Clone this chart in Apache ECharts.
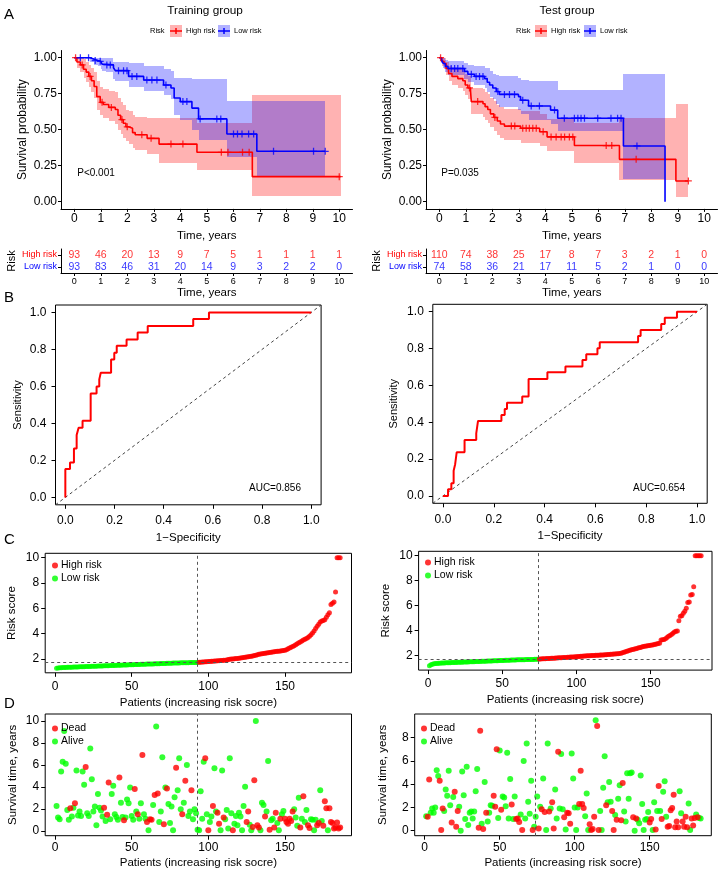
<!DOCTYPE html>
<html><head><meta charset="utf-8">
<script src="https://cdn.jsdelivr.net/npm/echarts@6/dist/echarts.min.js"></script>
<style>html,body{margin:0;padding:0;background:#fff}#c{width:718px;height:876px}</style>
</head><body><div id="c"></div>
<script>
// ---------------- DATA ----------------
const TIME_TICKS = [0,1,2,3,4,5,6,7,8,9,10];

// Panel A – Training group KM (High risk)
const trainHighT  = [0,0.1,0.23,0.35,0.45,0.55,0.65,0.75,0.85,0.98,1.1,1.3,1.55,1.65,1.75,1.85,1.95,2.05,2.2,2.3,2.75,3.2,4.63,6.72,10.05];
const trainHighS  = [1,0.97,0.95,0.92,0.9,0.87,0.84,0.8,0.73,0.69,0.675,0.655,0.64,0.6,0.57,0.545,0.52,0.51,0.48,0.465,0.44,0.4,0.343,0.174,0.174];
const trainHighLo = [1,0.93,0.9,0.86,0.83,0.8,0.76,0.72,0.64,0.6,0.58,0.56,0.54,0.5,0.47,0.44,0.42,0.4,0.37,0.36,0.33,0.27,0.22,0.04,0.04];
const trainHighUp = [1,1,1,0.99,0.97,0.95,0.93,0.9,0.84,0.8,0.78,0.77,0.76,0.72,0.69,0.67,0.64,0.63,0.6,0.59,0.58,0.58,0.55,0.74,0.74];
const trainHighCensT = [0.05,0.3,0.6,1.05,1.4,1.8,2.0,2.55,2.9,3.65,4.1,5.55,5.8,6.35,6.6,10.0];
const trainHighCensS = [1,0.95,0.87,0.69,0.655,0.57,0.52,0.465,0.44,0.4,0.4,0.343,0.343,0.343,0.343,0.174];
// Training group KM (Low risk)
const trainLowT  = [0,0.6,0.75,0.9,1.0,1.05,1.2,1.48,1.55,2.05,2.62,3.37,3.65,3.77,4.0,4.44,4.69,5.76,6.89,9.47];
const trainLowS  = [1,0.99,0.98,0.975,0.965,0.955,0.95,0.93,0.91,0.87,0.845,0.81,0.79,0.72,0.695,0.65,0.575,0.47,0.35,0.35];
const trainLowLo = [1,0.97,0.95,0.94,0.92,0.91,0.9,0.85,0.84,0.8,0.77,0.74,0.71,0.6,0.57,0.5,0.43,0.31,0.17,0.17];
const trainLowUp = [1,1,1,1,1,1,1,0.97,0.97,0.96,0.94,0.92,0.91,0.86,0.86,0.85,0.85,0.7,0.7,0.7];
const trainLowCensT = [0.23,0.54,0.79,0.98,1.23,1.36,1.67,1.86,1.99,2.18,2.36,2.74,2.93,3.12,3.46,4.1,4.25,4.75,5.38,5.53,6.01,6.16,6.33,6.58,6.77,7.52,9.03,9.47];
const trainLowCensS = [1,1,0.98,0.975,0.95,0.95,0.91,0.91,0.91,0.87,0.87,0.845,0.845,0.845,0.81,0.695,0.695,0.575,0.575,0.575,0.47,0.47,0.47,0.47,0.47,0.35,0.35,0.35];

// Test group KM (High risk)
const testHighT  = [0,0.1,0.18,0.26,0.35,0.48,0.7,0.89,0.98,1.08,1.18,1.21,1.65,1.73,1.83,1.93,2.06,2.19,2.31,2.46,3.07,3.79,4.07,5.1,6.8,8.93,9.4];
const testHighS  = [1,0.975,0.96,0.925,0.89,0.87,0.855,0.84,0.81,0.79,0.77,0.695,0.68,0.66,0.64,0.61,0.585,0.56,0.54,0.525,0.51,0.486,0.45,0.39,0.294,0.144,0.144];
const testHighLo = [1,0.945,0.925,0.88,0.84,0.81,0.79,0.77,0.74,0.71,0.69,0.61,0.59,0.57,0.55,0.52,0.49,0.46,0.44,0.43,0.41,0.385,0.35,0.27,0.15,0.035,0.035];
const testHighUp = [1,1,0.995,0.97,0.945,0.93,0.92,0.91,0.885,0.87,0.855,0.79,0.78,0.765,0.745,0.72,0.7,0.675,0.66,0.645,0.63,0.61,0.575,0.55,0.58,0.68,0.68];
const testHighCensT = [0.05,1.14,1.45,2.1,2.72,2.85,3.15,3.28,3.4,3.53,3.66,3.92,4.22,4.41,4.6,4.73,4.91,5.04,6.3,6.51,7.43,9.4];
const testHighCensS = [1,0.79,0.695,0.585,0.525,0.525,0.51,0.51,0.51,0.51,0.51,0.486,0.45,0.45,0.45,0.45,0.45,0.45,0.39,0.39,0.294,0.144];
// Test group KM (Low risk)
const testLowT  = [0,0.08,0.15,0.23,0.33,0.95,1.08,1.33,1.71,1.81,1.9,2.02,2.15,2.27,2.99,3.07,3.37,4.2,4.47,6.95,8.52];
const testLowS  = [1,0.985,0.96,0.94,0.925,0.905,0.885,0.87,0.855,0.83,0.81,0.79,0.765,0.745,0.73,0.705,0.665,0.636,0.58,0.387,0];
const testLowLo = [1,0.96,0.93,0.9,0.88,0.85,0.83,0.81,0.79,0.76,0.73,0.71,0.68,0.66,0.64,0.61,0.57,0.54,0.49,0.16,0.16];
const testLowUp = [1,1,0.995,0.985,0.975,0.96,0.95,0.94,0.93,0.93,0.91,0.89,0.88,0.875,0.86,0.845,0.84,0.835,0.775,0.89,0.89];
const testLowCensT = [0.45,0.58,0.7,0.89,1.21,1.39,1.52,1.65,2.21,2.46,2.65,2.84,3.15,3.47,3.78,4.35,4.72,5.1,5.23,5.35,5.48,5.98,6.48,6.73,6.86,7.46];
const testLowCensS = [0.925,0.925,0.925,0.925,0.885,0.87,0.87,0.87,0.765,0.745,0.745,0.745,0.705,0.665,0.665,0.636,0.58,0.58,0.58,0.58,0.58,0.58,0.58,0.58,0.58,0.387];

const trainPText = 'P<0.001', testPText = 'P=0.035';

// Numbers at risk
const trainHighN = [93,46,20,13,9,7,5,1,1,1,1];
const trainLowN  = [93,83,46,31,20,14,9,3,2,2,0];
const testHighN  = [110,74,38,25,17,8,7,3,2,1,0];
const testLowN   = [74,58,36,21,17,11,5,2,1,0,0];

// Panel B – ROC
const trainFpr = [0,0,0.019,0.019,0.035,0.035,0.046,0.046,0.054,0.054,0.07,0.07,0.103,0.103,0.127,0.127,0.138,0.138,0.144,0.144,0.186,0.186,0.199,0.199,0.209,0.209,0.249,0.249,0.294,0.294,0.335,0.335,0.52,0.52,0.584,0.584,1];
const trainTpr = [0,0.153,0.153,0.189,0.189,0.265,0.265,0.337,0.337,0.377,0.377,0.414,0.414,0.562,0.562,0.6,0.6,0.638,0.638,0.674,0.674,0.746,0.746,0.782,0.782,0.82,0.82,0.854,0.854,0.892,0.892,0.926,0.926,0.964,0.964,1,1];
const testFpr = [0,0.02,0.02,0.033,0.033,0.042,0.042,0.048,0.048,0.054,0.054,0.085,0.085,0.131,0.131,0.138,0.138,0.23,0.23,0.243,0.243,0.252,0.252,0.312,0.312,0.337,0.337,0.411,0.411,0.482,0.482,0.549,0.549,0.564,0.564,0.608,0.608,0.617,0.617,0.768,0.768,0.778,0.778,0.859,0.859,0.873,0.873,0.921,0.921,1];
const testTpr = [0,0,0.036,0.036,0.069,0.069,0.137,0.137,0.172,0.172,0.237,0.237,0.304,0.304,0.34,0.34,0.407,0.407,0.439,0.439,0.472,0.472,0.506,0.506,0.539,0.539,0.635,0.635,0.671,0.671,0.702,0.702,0.738,0.738,0.769,0.769,0.801,0.801,0.834,0.834,0.868,0.868,0.9,0.9,0.933,0.933,0.967,0.967,1,1];
const trainAUC = 'AUC=0.856', testAUC = 'AUC=0.654';

// Panel C – risk scores (sorted)
const trainLowCount = 93, testLowCount = 74;
const trainCutScore = 1.74, testCutScore = 1.71;
const trainScore = [
1.26,1.28,1.30,1.31,1.32,1.33,1.33,1.34,1.34,1.35,
1.35,1.36,1.36,1.37,1.37,1.38,1.38,1.39,1.39,1.40,
1.40,1.41,1.41,1.42,1.42,1.43,1.43,1.44,1.44,1.45,
1.45,1.46,1.46,1.47,1.47,1.48,1.48,1.49,1.49,1.50,
1.50,1.51,1.51,1.52,1.52,1.53,1.53,1.54,1.54,1.55,
1.55,1.56,1.56,1.57,1.57,1.58,1.58,1.59,1.59,1.60,
1.60,1.60,1.61,1.61,1.62,1.62,1.63,1.63,1.64,1.64,
1.65,1.65,1.66,1.66,1.67,1.67,1.68,1.68,1.69,1.69,
1.69,1.70,1.70,1.70,1.71,1.71,1.71,1.72,1.72,1.72,
1.73,1.73,1.73,
1.74,1.75,1.76,1.77,1.78,1.79,1.80,
1.81,1.82,1.83,1.84,1.85,1.86,1.87,1.88,1.89,1.90,
1.91,1.92,1.96,1.98,2.00,2.01,2.02,2.03,2.04,2.05,
2.07,2.09,2.11,2.13,2.15,2.17,2.19,2.21,2.24,2.27,
2.30,2.34,2.38,2.40,2.42,2.43,2.45,2.47,2.49,2.51,
2.53,2.55,2.57,2.59,2.61,2.62,2.63,2.65,2.67,2.70,
2.74,2.80,2.86,2.92,2.98,3.05,3.12,3.20,3.28,3.35,
3.42,3.50,3.56,3.62,3.70,3.80,3.92,4.06,4.22,4.40,
4.58,4.75,4.92,5.00,5.05,5.10,5.30,5.50,5.65,6.30,
6.40,6.50,7.30,10.0,10.0,10.0];
const testScore = [
1.20,1.28,1.32,1.35,1.37,1.38,1.39,1.40,1.41,1.42,
1.42,1.43,1.43,1.44,1.44,1.45,1.45,1.46,1.46,1.47,
1.47,1.48,1.48,1.49,1.49,1.50,1.50,1.51,1.51,1.52,
1.52,1.53,1.53,1.54,1.54,1.55,1.55,1.56,1.56,1.57,
1.57,1.58,1.58,1.59,1.59,1.60,1.60,1.61,1.61,1.62,
1.62,1.63,1.63,1.64,1.64,1.65,1.65,1.66,1.66,1.67,
1.67,1.67,1.68,1.68,1.68,1.69,1.69,1.69,1.70,1.70,
1.70,1.71,1.71,1.72,
1.73,1.74,1.75,1.75,1.76,1.77,
1.78,1.78,1.79,1.80,1.80,1.81,1.82,1.83,1.84,1.84,
1.85,1.86,1.86,1.87,1.88,1.89,1.90,1.90,1.91,1.92,
1.93,1.94,1.95,1.96,1.97,1.98,1.99,2.00,2.00,2.01,
2.02,2.02,2.03,2.03,2.04,2.05,2.05,2.06,2.07,2.08,
2.09,2.10,2.11,2.12,2.13,2.14,2.15,2.16,2.18,2.20,
2.24,2.28,2.32,2.36,2.40,2.44,2.47,2.50,2.53,2.56,
2.60,2.63,2.66,2.70,2.73,2.76,2.78,2.80,2.82,2.84,
2.86,2.88,2.91,2.94,2.97,3.00,3.25,3.27,3.30,3.35,
3.45,3.55,3.62,3.70,3.80,3.90,3.95,3.98,4.80,5.15,
5.20,5.40,5.55,5.80,6.25,6.30,6.85,6.90,7.52,10.0,
10.0,10.0,10.0,10.0];

// Panel D – survival time (years) and status (1 = dead, 0 = alive)
const trainTime = [2.25,1.2,1.05,5.4,6.3,9.1,6.1,1.9,1.0,2.05,1.3,2.1,2.5,5.5,1.4,1.75,1.35,5.4,4.2,5.8,
1.6,1.35,7.5,4.7,1.75,2.2,0.5,3.35,2.1,1.85,1.3,2.1,0.9,1.45,4.4,1.05,3.35,4.1,1.5,1.25,
1.0,4.85,2.55,1.25,0.95,1.2,2.85,2.5,3.95,1.35,1.0,3.8,1.75,1.5,1.1,2.5,6.9,1.5,1.1,0.8,
0.05,1.05,1.0,2.35,3.25,9.5,3.4,0.8,1.75,6.7,0.6,3.95,3.85,2.45,0.7,2.2,0.05,3.05,5.75,3.7,
6.6,1.95,1.5,2.55,4.55,6.0,1.35,1.75,3.7,1.05,1.95,1.6,0.1,0.05,3.6,1.1,6.3,6.6,1.5,0.05,
0.8,1.3,2.25,5.7,1.75,1.65,0.65,0.05,5.5,1.2,1.05,1.9,0.2,6.6,1.6,0.05,0.65,1.35,0.5,1.65,
1.3,0.05,2.25,4.0,0.8,1.75,0.55,0.05,0.35,4.6,10.0,0.5,0.3,0.05,2.55,2.35,1.3,1.75,6.35,0.1,
0.95,1.1,0.3,1.65,0.7,0.05,1.1,1.5,1.8,1.1,0.8,0.65,1.1,0.9,1.75,1.95,1.2,0.45,3.0,0.3,
1.1,3.15,0.8,1.9,0.5,0.25,1.05,1.0,0.05,1.0,0.5,0.7,3.7,0.9,0.45,2.7,2.05,0.05,2.05,0.8,
0.7,0.2,0.3,0.75,0.2,0.3];
const trainStatus = [0,0,0,0,0,0,0,0,0,1,0,0,1,0,0,0,0,0,0,1,
0,0,0,0,0,0,0,0,0,0,0,1,0,1,1,0,0,0,0,0,
0,1,0,0,1,0,0,0,0,0,0,1,0,1,0,0,1,0,0,1,
0,1,1,0,1,0,1,0,0,0,1,0,1,0,0,0,0,0,1,0,
0,0,1,0,1,0,0,0,1,0,0,0,0,0,0,0,0,1,0,1,
0,0,1,0,0,1,1,0,0,1,0,0,0,0,0,1,0,0,0,0,
0,0,0,0,1,1,0,0,1,1,0,1,1,0,0,0,1,0,0,1,
0,0,1,1,0,0,1,0,0,1,1,1,1,1,1,0,0,0,0,1,
0,1,0,0,1,1,0,0,0,0,1,1,0,0,1,1,1,0,1,1,
1,1,1,1,1,1];
const testTime = [1.25,1.2,4.4,1.55,1.9,1.55,2.0,5.2,4.7,4.3,0.05,1.9,1.7,3.55,3.0,5.15,2.2,0.7,2.9,3.35,
0.35,1.7,2.05,0.0,5.1,3.05,1.0,5.5,0.5,1.55,1.65,1.05,1.65,3.4,5.3,0.25,8.6,0.6,0.15,4.2,
1.55,0.8,1.55,2.2,2.15,3.0,2.05,7.0,1.1,6.9,1.8,2.95,2.85,2.1,6.7,1.05,4.45,2.25,1.0,2.95,
1.0,1.05,0.75,1.4,0.05,6.0,1.05,7.5,2.5,1.45,4.3,0.05,0.35,1.2,2.95,0.2,2.05,1.85,4.5,1.6,
0.05,7.5,1.65,1.9,2.45,0.2,3.55,1.05,6.8,1.9,6.6,1.85,1.15,0.1,1.55,1.5,0.6,6.65,4.5,2.0,
0.05,2.0,2.3,5.15,2.3,1.95,1.25,3.2,0.05,0.55,0.05,0.15,1.2,9.5,9.0,0.05,1.7,0.05,3.7,6.4,
2.2,2.45,4.2,2.5,1.7,0.05,1.35,0.95,2.75,3.9,0.9,4.1,1.65,0.8,4.95,2.75,4.95,5.0,1.15,0.0,
1.05,0.95,0.65,4.75,2.3,0.05,0.95,1.0,1.6,0.7,1.0,0.05,2.45,0.1,1.7,3.85,1.7,1.0,3.35,4.25,
1.2,0.35,0.4,1.75,1.95,3.1,0.3,0.8,0.3,3.4,1.5,0.8,0.35,1.2,0.3,2.35,0.05,1.05,0.45,1.1,
1.4,1.15,1.1,1.05];
const testStatus = [0,1,1,0,0,0,0,0,0,1,1,1,0,0,0,0,0,1,0,1,
1,1,0,0,0,0,0,0,0,0,0,0,0,0,0,1,1,0,1,0,
1,0,0,0,0,1,1,1,0,0,1,0,0,0,0,0,0,1,0,0,
1,1,1,0,1,0,0,0,0,0,0,1,0,0,0,1,0,1,0,1,
0,0,1,0,1,1,0,0,1,0,0,0,1,0,1,1,1,0,0,0,
0,0,1,1,1,1,0,0,0,1,1,1,1,0,1,1,0,0,0,0,
1,0,0,0,1,1,0,1,0,0,1,1,0,0,0,0,0,0,1,0,
1,0,0,0,0,0,0,0,0,1,1,0,0,1,0,1,0,1,0,0,
0,1,1,1,1,1,1,1,1,0,0,1,1,1,1,0,0,1,1,1,
0,1,0,0];
const trainCut = 93, testCut = 74;

// ---------------- STYLE ----------------
const FONT = "'Liberation Sans', Arial, Helvetica, sans-serif";
const RED = '#FF0000', BLUE = '#0000FF', GREEN = '#00FF00';
const RED_FILL = 'rgba(255,0,0,0.3)', BLUE_FILL = 'rgba(0,0,255,0.3)';
const PLUS = 'path://M-0.9,-5 L0.9,-5 L0.9,-0.9 L5,-0.9 L5,0.9 L0.9,0.9 L0.9,5 L-0.9,5 L-0.9,0.9 L-5,0.9 L-5,-0.9 L-0.9,-0.9 Z';
const zip = (a, b) => a.map((v, i) => [v, b[i]]);
const txt = (size) => ({ color: '#000', fontSize: size, fontFamily: FONT });

const grids = [
  { left: 61, top: 50.5, width: 291.5, height: 158.4 },        // 0 KM train
  { left: 426, top: 50.5, width: 291.5, height: 158.4 },       // 1 KM test
  { left: 61, top: 249, width: 291.5, height: 24 },            // 2 table train
  { left: 426, top: 249, width: 291.5, height: 24 },           // 3 table test
  { left: 55.5, top: 305, width: 265.6, height: 199.8, show: true, borderColor: '#000', borderWidth: 1 }, // 4 ROC train
  { left: 432.8, top: 304.3, width: 274.4, height: 199, show: true, borderColor: '#000', borderWidth: 1 }, // 5 ROC test
  { left: 45.2, top: 553.3, width: 306.3, height: 119.5, show: true, borderColor: '#000', borderWidth: 1 }, // 6 C train
  { left: 418.6, top: 551.3, width: 293.4, height: 118.8, show: true, borderColor: '#000', borderWidth: 1 }, // 7 C test
  { left: 45.2, top: 714, width: 306.3, height: 121.7, show: true, borderColor: '#000', borderWidth: 1 },  // 8 D train
  { left: 414.7, top: 714, width: 296.6, height: 121.7, show: true, borderColor: '#000', borderWidth: 1 }  // 9 D test
];

function valAxis(gi, min, max, ticks, o) {
  return {
    gridIndex: gi, type: 'value', min: min, max: max,
    axisLine: { show: o.line !== false, onZero: false, lineStyle: { color: '#000', width: 1 } },
    axisTick: { show: true, customValues: ticks, length: o.tick || 4, lineStyle: { color: '#000', width: 1 } },
    axisLabel: { customValues: ticks, formatter: o.fmt, margin: o.margin, ...txt(o.fs) },
    splitLine: { show: false },
    name: o.name || '', nameLocation: 'middle', nameGap: o.gap, nameRotate: o.rot,
    nameTextStyle: txt(o.nfs || 11.5)
  };
}
const f2 = v => v.toFixed(2), f1 = v => v.toFixed(1), f0 = v => String(v);

const xAxes = [
  valAxis(0, -0.5, 10.5, TIME_TICKS, { fs: 12, margin: 4, tick: 3, fmt: f0, name: 'Time, years', gap: 21 }),
  valAxis(1, -0.5, 10.5, TIME_TICKS, { fs: 12, margin: 4, tick: 3, fmt: f0, name: 'Time, years', gap: 21 }),
  valAxis(2, -0.5, 10.5, TIME_TICKS, { fs: 9, margin: 4, tick: 3, fmt: f0, name: 'Time, years', gap: 14 }),
  valAxis(3, -0.5, 10.5, TIME_TICKS, { fs: 9, margin: 4, tick: 3, fmt: f0, name: 'Time, years', gap: 14 }),
  valAxis(4, -0.04, 1.04, [0,0.2,0.4,0.6,0.8,1], { line: false, fs: 12, margin: 10, fmt: f1, name: '1\u2212Specificity', gap: 27 }),
  valAxis(5, -0.04, 1.04, [0,0.2,0.4,0.6,0.8,1], { line: false, fs: 12, margin: 10, fmt: f1, name: '1\u2212Specificity', gap: 27 }),
  valAxis(6, -6.4, 193.4, [0,50,100,150], { line: false, fs: 12, margin: 8, fmt: f0, name: 'Patients (increasing risk socre)', gap: 24 }),
  valAxis(7, -6.32, 191.32, [0,50,100,150], { line: false, fs: 12, margin: 8, fmt: f0, name: 'Patients (increasing risk socre)', gap: 24 }),
  valAxis(8, -6.4, 193.4, [0,50,100,150], { line: false, fs: 12, margin: 6, fmt: f0, name: 'Patients (increasing risk socre)', gap: 21 }),
  valAxis(9, -6.67, 191.1, [0,50,100,150], { line: false, fs: 12, margin: 6, fmt: f0, name: 'Patients (increasing risk socre)', gap: 21 })
];
const riskYAxis = (gi) => ({
  gridIndex: gi, type: 'category', data: ['Low risk', 'High risk'], boundaryGap: true,
  axisLine: { show: true, onZero: false, lineStyle: { color: '#000' } },
  axisTick: { show: true, alignWithLabel: true, length: 3, lineStyle: { color: '#000' } },
  axisLabel: { margin: 4, fontSize: 9, fontFamily: FONT,
    formatter: v => v === 'High risk' ? '{h|High risk}' : '{l|Low risk}',
    rich: { h: { color: RED, fontSize: 9, fontFamily: FONT }, l: { color: BLUE, fontSize: 9, fontFamily: FONT } } },
  name: 'Risk', nameLocation: 'middle', nameGap: 44, nameRotate: 90, nameTextStyle: txt(11)
});
const yAxes = [
  valAxis(0, -0.05, 1.05, [0,0.25,0.5,0.75,1], { fs: 12, margin: 4, tick: 3, fmt: f2, name: 'Survival probability', gap: 32, rot: 90, nfs: 12 }),
  valAxis(1, -0.05, 1.05, [0,0.25,0.5,0.75,1], { fs: 12, margin: 4, tick: 3, fmt: f2, name: 'Survival probability', gap: 32, rot: 90, nfs: 12 }),
  riskYAxis(2), riskYAxis(3),
  valAxis(4, -0.04, 1.04, [0,0.2,0.4,0.6,0.8,1], { line: false, fs: 12, margin: 9, fmt: f1, name: 'Sensitivity', gap: 32, rot: 90, nfs: 11 }),
  valAxis(5, -0.04, 1.04, [0,0.2,0.4,0.6,0.8,1], { line: false, fs: 12, margin: 9, fmt: f1, name: 'Sensitivity', gap: 33, rot: 90, nfs: 11 }),
  valAxis(6, 0.91, 10.35, [2,4,6,8,10], { line: false, fs: 12, margin: 6, fmt: f0, name: 'Risk score', gap: 27, rot: 90, nfs: 11.5 }),
  valAxis(7, 0.85, 10.35, [2,4,6,8,10], { line: false, fs: 12, margin: 6, fmt: f0, name: 'Risk score', gap: 27, rot: 90, nfs: 11.5 }),
  valAxis(8, -0.45, 10.64, [0,2,4,6,8,10], { line: false, fs: 12, margin: 6, fmt: f0, name: 'Survival time, years', gap: 26, rot: 90, nfs: 11.5 }),
  valAxis(9, -0.43, 10.04, [0,2,4,6,8], { line: false, fs: 12, margin: 6, fmt: f0, name: 'Survival time, years', gap: 26, rot: 90, nfs: 11.5 })
];

// ---------------- SERIES ----------------
const series = [];
// confidence band: one rectangle per step interval, drawn through the axes' coordinate system
function kmBand(gi, T, Lo, Up, fill) {
  const items = [];
  for (let i = 0; i < T.length - 1; i++) items.push([T[i], T[i + 1], Lo[i], Up[i]]);
  series.push({
    type: 'custom', xAxisIndex: gi, yAxisIndex: gi, silent: true, z: 1, clip: true,
    encode: { x: [0, 1], y: [2, 3] }, data: items,
    renderItem: function (params, api) {
      const a = api.coord([api.value(0), api.value(3)]);
      const b = api.coord([api.value(1), api.value(2)]);
      const x0 = Math.round(a[0]), x1 = Math.round(b[0]);
      const y0 = Math.round(a[1]), y1 = Math.round(b[1]);
      return { type: 'rect', shape: { x: x0, y: y0, width: x1 - x0, height: y1 - y0 }, style: { fill: fill } };
    }
  });
}
function kmLines(gi, T, S, cT, cS, color) {
  series.push({ type: 'line', xAxisIndex: gi, yAxisIndex: gi, step: 'end', symbol: 'none',
    data: zip(T, S), lineStyle: { color: color, width: 1.6 }, z: 3 });
  series.push({ type: 'scatter', xAxisIndex: gi, yAxisIndex: gi, symbol: PLUS, symbolSize: 7,
    data: zip(cT, cS), itemStyle: { color: color }, z: 4 });
}
kmBand(0, trainHighT, trainHighLo, trainHighUp, RED_FILL);
kmBand(0, trainLowT, trainLowLo, trainLowUp, BLUE_FILL);
kmLines(0, trainHighT, trainHighS, trainHighCensT, trainHighCensS, RED);
kmLines(0, trainLowT, trainLowS, trainLowCensT, trainLowCensS, BLUE);
kmBand(1, testHighT, testHighLo, testHighUp, RED_FILL);
kmBand(1, testLowT, testLowLo, testLowUp, BLUE_FILL);
kmLines(1, testHighT, testHighS, testHighCensT, testHighCensS, RED);
kmLines(1, testLowT, testLowS, testLowCensT, testLowCensS, BLUE);

// risk tables
function tableRow(gi, counts, row, color) {
  series.push({ type: 'scatter', xAxisIndex: gi, yAxisIndex: gi, symbol: 'circle', symbolSize: 1,
    itemStyle: { color: 'rgba(0,0,0,0)' },
    data: counts.map((n, i) => [TIME_TICKS[i], row, n]),
    label: { show: true, position: 'inside', formatter: p => String(p.value[2]), color: color, fontSize: 10.5, fontFamily: FONT } });
}
tableRow(2, trainHighN, 1, RED); tableRow(2, trainLowN, 0, BLUE);
tableRow(3, testHighN, 1, RED); tableRow(3, testLowN, 0, BLUE);

// ROC
function roc(gi, fpr, tpr) {
  series.push({ type: 'line', xAxisIndex: gi, yAxisIndex: gi, symbol: 'none', data: [[-0.04, -0.04], [1.04, 1.04]],
    lineStyle: { color: '#444', width: 1, type: [3, 3] }, z: 2 });
  series.push({ type: 'line', xAxisIndex: gi, yAxisIndex: gi, symbol: 'none', data: zip(fpr, tpr),
    lineStyle: { color: RED, width: 2 }, z: 3 });
}
roc(4, trainFpr, trainTpr); roc(5, testFpr, testTpr);

// Risk score plots
const dashed = { color: '#555', width: 1, type: [3, 3] };
function riskPlot(gi, scores, lowCount, cut, cutScore) {
  const pts = scores.map((v, i) => [i + 1, v]);
  series.push({ type: 'scatter', name: 'Low risk', xAxisIndex: gi, yAxisIndex: gi, symbol: 'circle', symbolSize: 5,
    data: pts.slice(0, lowCount), itemStyle: { color: GREEN }, z: 3,
    markLine: { silent: true, symbol: ['none', 'none'], label: { show: false }, lineStyle: dashed,
      data: [{ xAxis: cut }, { yAxis: cutScore }] } });
  series.push({ type: 'scatter', name: 'High risk', xAxisIndex: gi, yAxisIndex: gi, symbol: 'circle', symbolSize: 5,
    data: pts.slice(lowCount), itemStyle: { color: RED }, z: 3 });
}
riskPlot(6, trainScore, trainLowCount, trainCut, trainCutScore);
riskPlot(7, testScore, testLowCount, testCut, testCutScore);

// Survival status plots
function statusPlot(gi, time, status, cut) {
  const dead = [], alive = [];
  time.forEach((t, i) => (status[i] === 1 ? dead : alive).push([i + 1, t]));
  series.push({ type: 'scatter', name: 'Alive', xAxisIndex: gi, yAxisIndex: gi, symbol: 'circle', symbolSize: 6,
    data: alive, itemStyle: { color: GREEN }, z: 3,
    markLine: { silent: true, symbol: ['none', 'none'], label: { show: false }, lineStyle: dashed, data: [{ xAxis: cut }] } });
  series.push({ type: 'scatter', name: 'Dead', xAxisIndex: gi, yAxisIndex: gi, symbol: 'circle', symbolSize: 6,
    data: dead, itemStyle: { color: RED }, z: 3 });
}
statusPlot(8, trainTime, trainStatus, trainCut);
statusPlot(9, testTime, testStatus, testCut);

// ---------------- LEGENDS & TEXT ----------------
const legendBase = { orient: 'vertical', icon: 'circle', itemWidth: 6, itemHeight: 6, itemGap: 2, padding: 0,
  textStyle: { fontSize: 10.5, fontFamily: FONT, color: '#000', padding: [0, 0, 0, -2] }, selectedMode: false };
const legends = [
  { ...legendBase, left: 52, top: 560, data: ['High risk', 'Low risk'] },
  { ...legendBase, left: 425, top: 557, data: ['High risk', 'Low risk'] },
  { ...legendBase, left: 52, top: 723, data: ['Dead', 'Alive'] },
  { ...legendBase, left: 421, top: 723, data: ['Dead', 'Alive'] }
];

function T(x, y, text, size, align, extra) {
  return { type: 'text', x: x, y: y, silent: true,
    style: Object.assign({ text: text, fontSize: size, fontFamily: FONT, fill: '#000', align: align || 'left', verticalAlign: 'middle' }, extra || {}) };
}
function ggKey(x, y, color, fill) {
  return [
    { type: 'rect', shape: { x: x, y: y - 6, width: 12, height: 12 }, style: { fill: fill }, silent: true },
    { type: 'line', shape: { x1: x, y1: y, x2: x + 12, y2: y }, style: { stroke: color, lineWidth: 1.5 }, silent: true },
    { type: 'line', shape: { x1: x + 6, y1: y - 3, x2: x + 6, y2: y + 3 }, style: { stroke: color, lineWidth: 1.5 }, silent: true }
  ];
}
const graphics = [
  T(4, 15, 'A', 15), T(4, 298, 'B', 15), T(4, 540, 'C', 15), T(4, 704, 'D', 15),
  T(205, 11, 'Training group', 11.8, 'center'), T(567, 11, 'Test group', 11.8, 'center'),
  T(150, 31, 'Risk', 7.5), ...ggKey(170, 31, RED, RED_FILL), T(186, 31, 'High risk', 7.5),
  ...ggKey(218, 31, BLUE, BLUE_FILL), T(234, 31, 'Low risk', 7.5),
  T(516, 31, 'Risk', 7.5), ...ggKey(535, 31, RED, RED_FILL), T(551, 31, 'High risk', 7.5),
  ...ggKey(584, 31, BLUE, BLUE_FILL), T(600, 31, 'Low risk', 7.5),
  T(96, 173, trainPText, 10, 'center'), T(460, 173, testPText, 10, 'center'),
  T(275, 488, trainAUC, 10, 'center'), T(659, 488, testAUC, 10, 'center')
];

const chart = echarts.init(document.getElementById('c'), null, { renderer: 'canvas' });
chart.setOption({
  animation: false,
  backgroundColor: '#fff',
  textStyle: { fontFamily: FONT },
  grid: grids, xAxis: xAxes, yAxis: yAxes, series: series,
  legend: legends, graphic: graphics
});
</script></body></html>
